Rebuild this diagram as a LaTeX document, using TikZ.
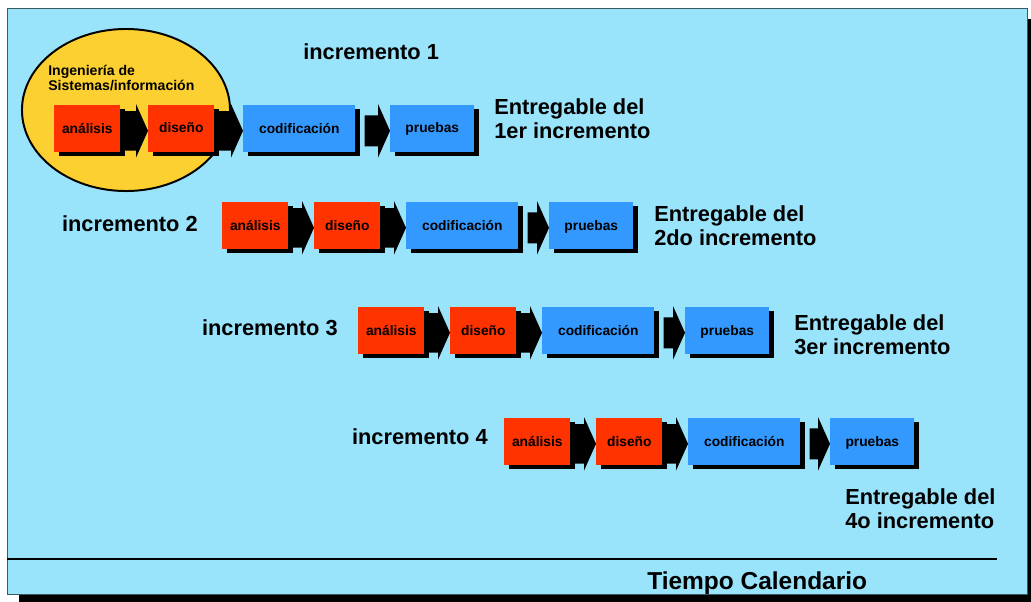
\documentclass[tikz,border=0pt]{standalone}
\usepackage{fontspec}
\setmainfont{Liberation Sans}
\usetikzlibrary{shadows,calc,shapes.geometric}
\definecolor{panelblue}{RGB}{153,227,251}
\definecolor{panelline}{RGB}{60,90,100}
\definecolor{boxred}{RGB}{255,51,0}
\definecolor{boxblue}{RGB}{51,153,255}
\definecolor{ellyellow}{RGB}{252,208,48}
\tikzset{
  box/.style={inner sep=0pt, minimum height=1.175cm, font=\bfseries\fontsize{9.8}{11}\selectfont,
    drop shadow={shadow xshift=3.5pt, shadow yshift=-3.5pt, fill=black, opacity=1}},
  redbox/.style={box, fill=boxred, minimum width=1.65cm},
  codbox/.style={box, fill=boxblue, minimum width=2.8cm},
  pruebox/.style={box, fill=boxblue, minimum width=2.1cm},
  lbl/.style={inner sep=0pt, font=\bfseries\fontsize{15.5}{17}\selectfont},
}
% block arrow: from, to, start gap, body half height
\newcommand\blockarr[4]{%
  \fill let \p1=(#1.east), \p2=(#2.west) in
    (\x1+#3,\y1-2pt+#4) -- (\x2-8.5pt,\y1-2pt+#4) -- (\x2-8.5pt,\y1+17pt) -- (\x2,\y1-2pt)
    -- (\x2-8.5pt,\y1-21pt) -- (\x2-8.5pt,\y1-2pt-#4) -- (\x1+#3,\y1-2pt-#4) -- cycle;}
\begin{document}
\begin{tikzpicture}[x=0.025cm, y=-0.025cm]
	\useasboundingbox (0,0) rectangle (1031,601);
	\clip (0,0) rectangle (1031,601);
	% panel and time axis
	\fill (19,19) rectangle (1045,615);
	\draw[fill=panelblue, draw=panelline, line width=0.6pt] (7,8) rectangle (1027,594);
	\draw[line width=2pt] (7,559) -- (997,559);
	\node[lbl, font=\bfseries\fontsize{17.4}{19}\selectfont, anchor=west] (tiempo) at (647,583) {Tiempo Calendario};
	% first increment: systems engineering
	\node[ellipse, draw, line width=1.4pt, fill=ellyellow, minimum width=5.2cm, minimum height=4.05cm, inner sep=0pt] (ing) at (126,110) {};
	\node[anchor=west, align=left, inner sep=0pt, font=\bfseries\fontsize{10}{10.6}\selectfont] (ingtxt) at (48,78) {Ingeniería de\\Sistemas/información};
	% the four increments
	\foreach \r/\xr/\yr/\dd/\dc/\dp in {1/54/128/94/189/336, 2/222/225/92/184/327, 3/358/330/92/184/327, 4/504/441/92/184/326} {
		\node[redbox, anchor=west] (a\r) at (\xr,\yr) {análisis};
		\node[redbox, anchor=west] (d\r) at (\xr+\dd,\yr) {diseño};
		\node[codbox, anchor=west] (c\r) at (\xr+\dc,\yr) {codificación};
		\node[pruebox, anchor=west] (p\r) at (\xr+\dp,\yr) {pruebas};
		\blockarr{a\r}{d\r}{0pt}{14pt}
		\blockarr{d\r}{c\r}{0pt}{14pt}
		\blockarr{c\r}{p\r}{6.4pt}{11pt}
	}
	\node[lbl, anchor=west] (inc1) at (303,52) {incremento 1};
	\node[lbl, anchor=east] (inc2) at (198,224) {incremento 2};
	\node[lbl, anchor=east] (inc3) at (338,328) {incremento 3};
	\node[lbl, anchor=east] (inc4) at (488,437) {incremento 4};
	\node[lbl, anchor=west, align=left] (ent1) at (494,119) {Entregable del\\1er incremento};
	\node[lbl, anchor=west, align=left] (ent2) at (654,226) {Entregable del\\2do incremento};
	\node[lbl, anchor=west, align=left] (ent3) at (794,335) {Entregable del\\3er incremento};
	\node[lbl, anchor=west, align=left] (ent4) at (845,509) {Entregable del\\4o incremento};
\end{tikzpicture}
\end{document}
